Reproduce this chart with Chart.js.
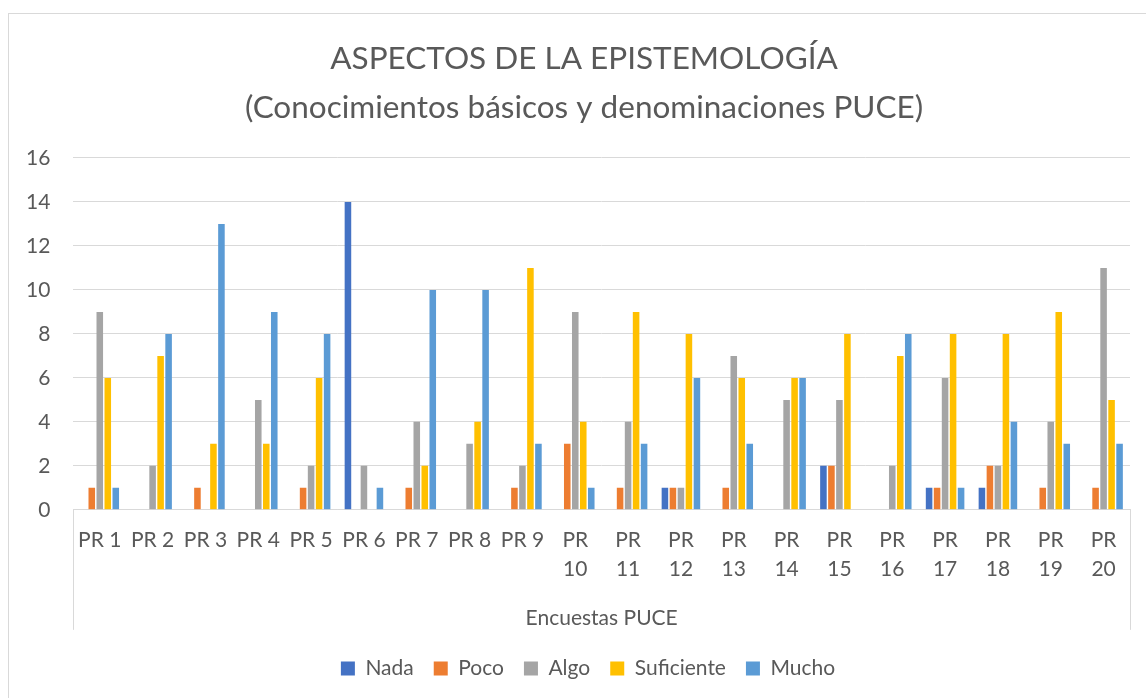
<!DOCTYPE html>
<html>
<head>
<meta charset="utf-8">
<script src="https://cdn.jsdelivr.net/npm/chart.js@4.4.0/dist/chart.umd.min.js"></script>
<style>
  html, body { margin: 0; padding: 0; background: #ffffff; overflow: hidden; }
  #frame { position: absolute; left: 8px; top: 13px; width: 1200px; height: 760px; border: 1px solid #d9d9d9; box-sizing: border-box; }
  #c { position: absolute; left: 0; top: 0; }
</style>
</head>
<body>
<div id="frame"></div>
<canvas id="c" width="1146" height="698"></canvas>
<script>
const categories = ["PR 1","PR 2","PR 3","PR 4","PR 5","PR 6","PR 7","PR 8","PR 9","PR 10",
                    "PR 11","PR 12","PR 13","PR 14","PR 15","PR 16","PR 17","PR 18","PR 19","PR 20"];
const nada       = [0,0,0,0,0,14,0,0,0,0, 0,1,0,0,2,0,1,1,0,0];
const poco       = [1,0,1,0,1,0,1,0,1,3, 1,1,1,0,2,0,1,2,1,1];
const algo       = [9,2,0,5,2,2,4,3,2,9, 4,1,7,5,5,2,6,2,4,11];
const suficiente = [6,7,3,3,6,0,2,4,11,4, 9,8,6,6,8,7,8,8,9,5];
const mucho      = [1,8,13,9,8,1,10,10,3,1, 3,6,3,6,0,8,1,4,3,3];
const yTicks = [0,2,4,6,8,10,12,14,16];
const titleLines = ["ASPECTOS DE LA EPISTEMOLOGÍA", "(Conocimientos básicos y denominaciones PUCE)"];
const xTitle = "Encuestas PUCE";

const textColor = '#595959';
const gridColor = '#d9d9d9';
const FONT = 'Lato';

const boxPlugin = {
  id: 'catBox',
  afterLayout(chart) {
    // centre title and legend on the whole chart frame, as in the reference
    const tShift = 17.5, lShift = 21.5;
    if (chart.titleBlock) { chart.titleBlock.left += tShift; chart.titleBlock.right += tShift; }
    if (chart.legend) { chart.legend.left += lShift; chart.legend.right += lShift; }
  },
  afterDraw(chart) {
    const x = chart.scales.x;
    const ctx = chart.ctx;
    ctx.save();
    ctx.strokeStyle = gridColor;
    ctx.lineWidth = 1;
    const top = x.top;
    const bottom = x.top + 120;
    [x.getPixelForValue(-0.5), x.getPixelForValue(categories.length - 0.5)].forEach(px => {
      const p = Math.round(px) + 0.5;
      ctx.beginPath();
      ctx.moveTo(p, top);
      ctx.lineTo(p, bottom);
      ctx.stroke();
    });
    ctx.restore();
  }
};

function ds(label, data, color) {
  return { label, data, backgroundColor: color, borderWidth: 0,
           categoryPercentage: 0.757, barPercentage: 0.82 };
}

new Chart(document.getElementById('c'), {
  type: 'bar',
  data: {
    labels: categories,
    datasets: [
      ds('Nada', nada, '#4472C4'),
      ds('Poco', poco, '#ED7D31'),
      ds('Algo', algo, '#A5A5A5'),
      ds('Suficiente', suficiente, '#FFC000'),
      ds('Mucho', mucho, '#5B9BD5')
    ]
  },
  options: {
    responsive: false,
    animation: false,
    devicePixelRatio: 1,
    layout: { padding: { left: 3, right: 16, top: 0, bottom: 9 } },
    plugins: {
      title: {
        display: true,
        text: titleLines,
        color: textColor,
        font: { family: FONT, size: 31.5, weight: 'normal', lineHeight: 1.555 },
        padding: { top: 34, bottom: 26 }
      },
      legend: {
        position: 'bottom',
        labels: {
          color: textColor,
          font: { family: FONT, size: 21 },
          boxWidth: 14, boxHeight: 14,
          padding: 20
        }
      },
      tooltip: { enabled: false }
    },
    scales: {
      y: {
        min: 0, max: 16,
        afterBuildTicks(scale) { scale.ticks = yTicks.map(v => ({ value: v })); },
        grid: { color: gridColor, lineWidth: 1, drawTicks: false },
        border: { display: false },
        ticks: { color: textColor, font: { family: FONT, size: 21 }, padding: 23 }
      },
      x: {
        grid: { display: false, drawTicks: false },
        border: { display: true, color: gridColor },
        ticks: {
          color: textColor,
          font: { family: FONT, size: 21, lineHeight: 1.38 },
          padding: 16,
          maxRotation: 0, minRotation: 0,
          autoSkip: false,
          callback(value) {
            const s = categories[value];
            return s.length > 4 ? s.split(' ') : s;
          }
        },
        title: {
          display: true,
          text: xTitle,
          color: textColor,
          font: { family: FONT, size: 21 },
          padding: { top: 6, bottom: 7 }
        }
      }
    }
  },
  plugins: [boxPlugin]
});
</script>
</body>
</html>
